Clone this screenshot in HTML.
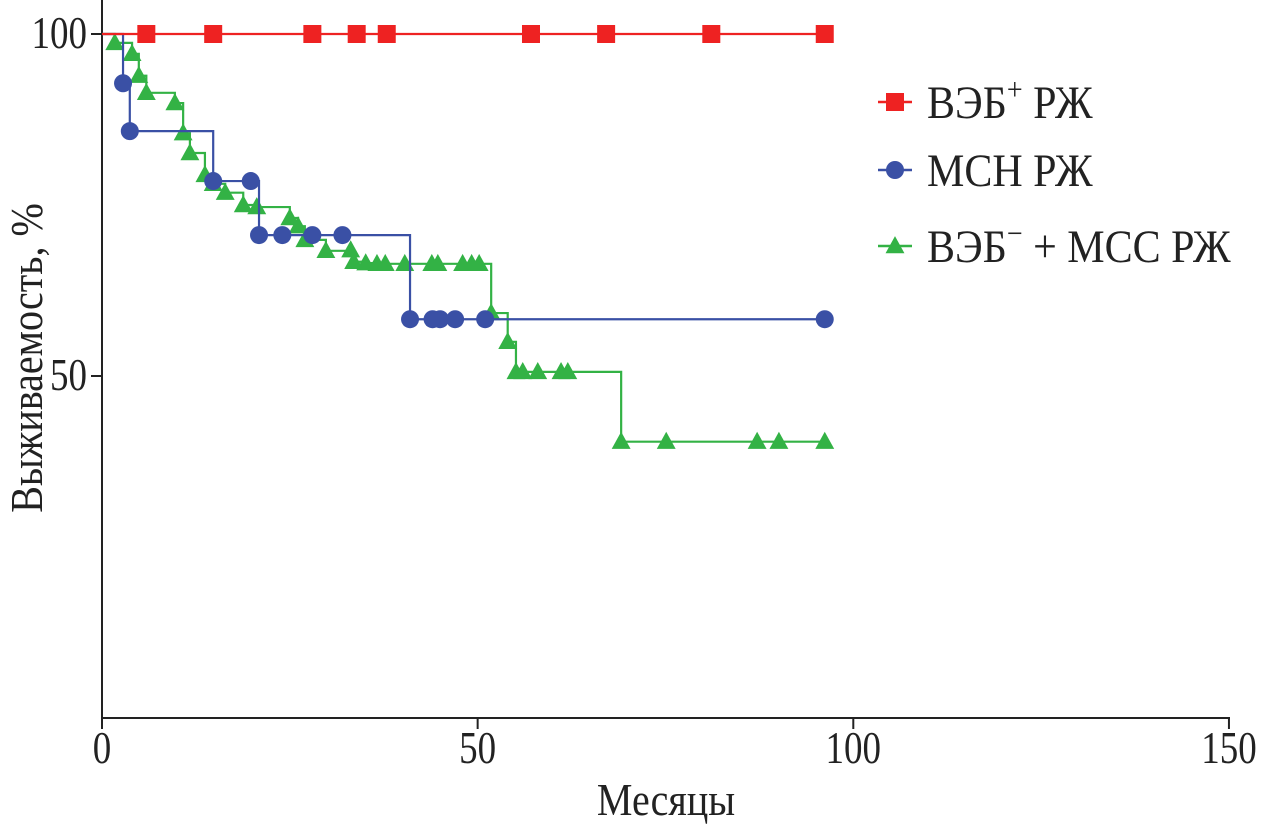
<!DOCTYPE html>
<html><head><meta charset="utf-8"><style>
html,body{margin:0;padding:0;background:#fff;}
svg{display:block;font-family:"Liberation Serif",serif;}
</style></head><body>
<svg id="chart" width="1261" height="827" viewBox="0 0 1261 827">
<g id="axes"></g>
<g id="series"></g>
<g id="legend"></g>
</svg>
<script>
const xTicks = [0, 50, 100, 150];
const yTicks = [50, 100];
const redTimes = [5.9, 14.8, 28.0, 33.9, 37.9, 57.1, 67.1, 81.1, 96.2];
const redSurv = [100, 100, 100, 100, 100, 100, 100, 100, 100];
const blueTimes = [2.8, 3.7, 14.8, 19.8, 20.9, 24.0, 28.0, 32.0, 41.0, 44.0, 45.0, 47.0, 51.0, 96.2];
const blueSurv = [92.8, 85.8, 78.5, 78.5, 70.6, 70.6, 70.6, 70.6, 58.3, 58.3, 58.3, 58.3, 58.3, 58.3];
const greenTimes = [1.7,4.0,4.9,5.9,9.7,10.8,11.7,13.7,14.8,16.4,18.8,20.6,25.0,26.1,27.0,29.8,33.1,33.5,35.1,36.6,37.7,40.3,43.9,44.7,48.0,49.2,50.2,51.8,54.0,55.1,56.0,58.0,61.1,62.0,69.1,75.1,87.2,90.1,96.2];
const greenSurv = [98.7,97.1,93.9,91.4,89.9,85.5,82.6,79.4,78.1,76.8,75.0,74.7,73.1,71.9,69.9,68.3,68.4,66.7,66.5,66.4,66.4,66.4,66.4,66.4,66.4,66.4,66.4,59.2,55.0,50.6,50.6,50.6,50.6,50.6,40.4,40.4,40.4,40.4,40.4];

const NS = "http://www.w3.org/2000/svg";
const X = t => 102 + t * 7.513;
const Y = s => 718 - s * 6.84;
function mk(parent, tag, attrs, text) {
  const e = document.createElementNS(NS, tag);
  for (const k in attrs) e.setAttribute(k, attrs[k]);
  if (text !== undefined) e.textContent = text;
  parent.appendChild(e);
  return e;
}
const axes = document.getElementById('axes');
const series = document.getElementById('series');
const legend = document.getElementById('legend');

let a = mk(axes, 'line', {x1:102, y1:0, x2:102, y2:719, stroke:'#222', 'stroke-width':2});


a = mk(axes, 'line', {x1:101, y1:718, x2:1230, y2:718, stroke:'#222', 'stroke-width':2});


xTicks.forEach(v => {
  const t = mk(axes, 'line', {x1:X(v), y1:718, x2:X(v), y2:729, stroke:'#222', 'stroke-width':2});
  
  
  const l = mk(axes, 'text', {x:0, y:0, 'text-anchor':'middle', 'font-size':37, fill:'#222', transform:'translate(' + X(v) + ',763) scale(1,1.22)'}, String(v));
  
  
});
yTicks.forEach(v => {
  const t = mk(axes, 'line', {x1:91, y1:Y(v), x2:102, y2:Y(v), stroke:'#222', 'stroke-width':2});
  
  
  const l = mk(axes, 'text', {x:0, y:0, 'text-anchor':'end', 'font-size':37, fill:'#222', transform:'translate(87,' + (Y(v)+14) + ') scale(1,1.22)'}, String(v));
  
  
});
a = mk(axes, 'text', {x:0, y:0, 'text-anchor':'middle', 'font-size':40, fill:'#222', transform:'translate(666,815) scale(1,1.15)'}, 'Месяцы');


a = mk(axes, 'text', {x:0, y:0, 'text-anchor':'middle', 'font-size':40, fill:'#222', transform:'translate(42,358) rotate(-90) scale(1,1.15)'}, 'Выживаемость, %');



function stepPath(times, surv) {
  let d = 'M' + X(0) + ',' + Y(100);
  let prev = 100;
  for (let i = 0; i < times.length; i++) {
    d += ' L' + X(times[i]) + ',' + Y(prev) + ' L' + X(times[i]) + ',' + Y(surv[i]);
    prev = surv[i];
  }
  return d;
}
function marker(g, type, cx, cy, color, r) {
  let e;
  if (type === 'sq') e = mk(g, 'rect', {x:cx-r, y:cy-r, width:2*r, height:2*r, fill:color});
  else if (type === 'ci') e = mk(g, 'circle', {cx:cx, cy:cy, r:r, fill:color});
  else e = mk(g, 'polygon', {points:(cx)+','+(cy-r*1.1)+' '+(cx-r*1.05)+','+(cy+r*0.8)+' '+(cx+r*1.05)+','+(cy+r*0.8), fill:color});
  return e;
}
const defs = [
  {t:greenTimes, s:greenSurv, c:'#33b245', m:'tr', r:9, name:'ebv-neg-mss'},
  {t:blueTimes, s:blueSurv, c:'#3a50a5', m:'ci', r:9, name:'msi'},
  {t:redTimes, s:redSurv, c:'#ee2222', m:'sq', r:9, name:'ebv-pos'}
];
defs.forEach(d => {
  const g = mk(series, 'g', {});
  
  
  const p = mk(g, 'path', {d:stepPath(d.t, d.s), fill:'none', stroke:d.c, 'stroke-width':2.2});
  
  
  d.t.forEach((t, i) => {
    const m = marker(g, d.m, X(t), Y(d.s[i]), d.c, d.r);
    
    
  });
});

const legY = [102, 170, 246];
const legC = ['#ee2222', '#3a50a5', '#33b245'];
const legM = ['sq', 'ci', 'tr'];
const legN = ['legend-ebv-pos', 'legend-msi', 'legend-ebv-neg-mss'];
for (let i = 0; i < 3; i++) {
  const g = mk(legend, 'g', {});
  
  
  mk(g, 'line', {x1:878, y1:legY[i], x2:912, y2:legY[i], stroke:legC[i], 'stroke-width':2.5});
  marker(g, legM[i], 895, legY[i], legC[i], 9);
  const tx = mk(g, 'text', {x:0, y:0, 'font-size':42, fill:'#222', transform:'translate(927,' + (legY[i]+16) + ') scale(1,1.1)'});
  if (i === 0) {
    tx.textContent = 'ВЭБ';
    mk(tx, 'tspan', {'font-size':28, dy:-17}, '+');
    mk(tx, 'tspan', {dy:17}, ' РЖ');
  } else if (i === 1) {
    tx.textContent = 'МСН РЖ';
  } else {
    tx.textContent = 'ВЭБ';
    mk(tx, 'tspan', {'font-size':28, dy:-17}, '−');
    mk(tx, 'tspan', {dy:17}, ' + МСС РЖ');
  }
}
</script>
</body></html>
